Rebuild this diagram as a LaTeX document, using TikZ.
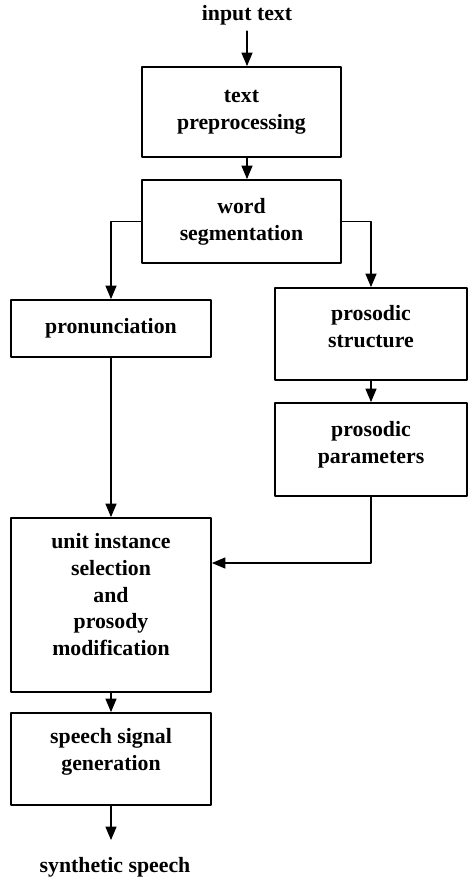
\documentclass[tikz,border=0pt]{standalone}
\usepackage{fontspec}
\setmainfont{Liberation Serif}
\usetikzlibrary{arrows}

\begin{document}
\begin{tikzpicture}[line cap=round,line join=round,>=triangle 45,x=1cm,y=1cm,
    font=\fontsize{12.4}{15.3}\selectfont\bfseries,
    blk/.style={draw,line width=1.1pt,rectangle,align=center,inner sep=0pt},
    lnk/.style={line width=0.75pt}]
\useasboundingbox (0,0) rectangle (9.36,-17.6);
%labels
    \node[] at (4.94,-0.30)   (in) {input text};
    \node[] at (2.30,-17.34)  (out) {synthetic speech};
%%%%%%%%boxes
\node[blk,minimum width=3.98cm,minimum height=1.80cm] at (4.83,-2.24) (prep) {text\\preprocessing};
\node[blk,minimum width=3.98cm,minimum height=1.66cm] at (4.83,-4.43) (seg) {word\\segmentation};
%%col1
\node[blk,minimum width=4.0cm,minimum height=1.14cm] at (2.22,-6.57) (pron) {pronunciation};
\node[blk,minimum width=4.0cm,minimum height=3.48cm,text depth=0.42cm] at (2.22,-12.10) (unit) {unit instance\\selection\\and\\prosody\\modification};
\node[blk,minimum width=4.0cm,minimum height=1.84cm,text depth=0.38cm] at (2.22,-15.18) (sig) {speech signal\\generation};
%%col2
\node[blk,minimum width=3.84cm,minimum height=1.84cm,text depth=0.32cm] at (7.42,-6.68) (pstr) {prosodic\\structure};
\node[blk,minimum width=3.84cm,minimum height=1.86cm,text depth=0.30cm] at (7.42,-8.99) (ppar) {prosodic\\parameters};
\coordinate (end) at (2.22,-16.80);
%%%lines
\draw [lnk,->] (in.south) -- (in.south |- prep.north);
\draw [lnk,->] (in.south |- prep.south) -- (in.south |- seg.north);
\draw [lnk,->] (seg.west) -| (pron.north);%left branch
\draw [lnk,->] (seg.east) -| (pstr.north);%right branch
\draw [lnk,->] (pstr.south) -- (ppar.north);
\draw [lnk,->] (pron.south) -- (unit.north);
\draw [lnk,->] (ppar.south) |- ([yshift=0.84cm]unit.east);
\draw [lnk,->] (unit.south) -- (sig.north);
\draw [lnk,->] (sig.south) -- (end);
\end{tikzpicture}
\end{document}
